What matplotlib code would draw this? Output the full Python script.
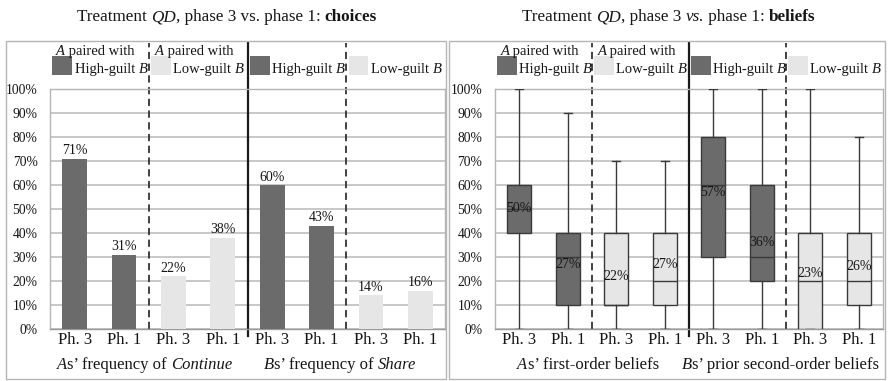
import matplotlib
matplotlib.use('Agg')
import matplotlib.pyplot as plt
from matplotlib.patches import Rectangle

W, H = 889, 381
plt.rcParams['font.family'] = ['Liberation Serif', 'DejaVu Serif']

# ---------------- data ----------------
categories = ['Ph. 3', 'Ph. 1', 'Ph. 3', 'Ph. 1', 'Ph. 3', 'Ph. 1', 'Ph. 3', 'Ph. 1']
guilt_group = ['High', 'High', 'Low', 'Low', 'High', 'High', 'Low', 'Low']
choice_values = [71, 31, 22, 38, 60, 43, 14, 16]
belief_whislo = [0, 0, 0, 0, 0, 0, 0, 0]
belief_q1 = [40, 10, 10, 10, 30, 20, 0, 10]
belief_med = [50, 30, 10, 20, 60, 30, 20, 20]
belief_q3 = [60, 40, 40, 40, 80, 60, 40, 40]
belief_whishi = [100, 90, 70, 70, 100, 100, 100, 80]
belief_mean = [50, 27, 22, 27, 57, 36, 23, 26]
yticks = list(range(0, 101, 10))
ytick_labels = [f'{v}%' for v in yticks]
legend_labels = ['High-guilt ', 'Low-guilt ', 'High-guilt ', 'Low-guilt ']
left_title = [('Treatment ', 'normal', 'normal'), ('QD', 'italic', 'normal'),
              (', phase 3 vs. phase 1: ', 'normal', 'normal'), ('choices', 'normal', 'bold')]
right_title = [('Treatment ', 'normal', 'normal'), ('QD', 'italic', 'normal'),
               (', phase 3 ', 'normal', 'normal'), ('vs.', 'italic', 'normal'),
               (' phase 1: ', 'normal', 'normal'), ('beliefs', 'normal', 'bold')]
left_xlabels = [[('A', 'italic', 'normal'), ('s\u2019 frequency of ', 'normal', 'normal'), ('Continue', 'italic', 'normal')],
                [('B', 'italic', 'normal'), ('s\u2019 frequency of ', 'normal', 'normal'), ('Share', 'italic', 'normal')]]
right_xlabels = [[('A', 'italic', 'normal'), ('s\u2019 first-order beliefs', 'normal', 'normal')],
                 [('B', 'italic', 'normal'), ('s\u2019 prior second-order beliefs', 'normal', 'normal')]]

DARK = '#6b6b6b'
LIGHT = '#e6e6e6'
TXT = '#161616'
colors = [DARK if g == 'High' else LIGHT for g in guilt_group]

fig = plt.figure(figsize=(W / 100, H / 100), dpi=100)
renderer = fig.canvas.get_renderer()


def text_width(s, size, style, weight):
    t = fig.text(0, 0, s + '|', fontsize=size, style=style, weight=weight)
    t2 = fig.text(0, 0, '|', fontsize=size, style=style, weight=weight)
    w = t.get_window_extent(renderer).width - t2.get_window_extent(renderer).width
    t.remove()
    t2.remove()
    return w


def rich(x, y, pieces, size, ha='center'):
    widths = [text_width(s, size, st, wt) for s, st, wt in pieces]
    x0 = x - sum(widths) / 2 if ha == 'center' else x
    for (s, st, wt), w in zip(pieces, widths):
        fig.text(x0 / W, 1 - y / H, s, fontsize=size, style=st, weight=wt,
                 va='baseline', ha='left', color=TXT)
        x0 += w


def px_axes(l, t, r, b):
    return fig.add_axes([l / W, 1 - b / H, (r - l) / W, (b - t) / H])


# panel borders
for x0, x1 in [(6, 446), (449, 885)]:
    fig.patches.append(Rectangle((x0 / W, 1 - 379 / H), (x1 - x0) / W, (379 - 41) / H,
                                 transform=fig.transFigure, fill=False,
                                 ec='#b5b5b5', lw=1.0))

AX = [(50, 445), (495, 883)]
axL = px_axes(50, 89, 445, 329)
axR = px_axes(495, 89, 883, 329)

for ax in (axL, axR):
    ax.set_xlim(-0.5, 7.5)
    ax.set_ylim(0, 100)
    ax.set_yticks(yticks)
    ax.set_yticklabels(ytick_labels, fontsize=9.8, color=TXT)
    ax.set_xticks(range(len(categories)))
    ax.set_xticklabels(categories, fontsize=12, color=TXT)
    ax.tick_params(axis='y', length=0, pad=9)
    ax.tick_params(axis='x', length=0, pad=2)
    ax.grid(axis='y', color='#c4c4c4', lw=1.3)
    ax.set_axisbelow(True)
    for sp in ax.spines.values():
        sp.set_color('#b5b5b5')
        sp.set_linewidth(1.0)
    ax.spines['bottom'].set_color('#9a9a9a')
    tr = ax.get_xaxis_transform()
    for xd in (1.5, 5.5):
        ax.plot([xd, xd], [0, 1.19], transform=tr, clip_on=False, color='#333333',
                lw=1.3, ls=(0, (4, 2.5)))
    ax.plot([3.5, 3.5], [-0.03, 1.19], transform=tr, clip_on=False, color='#1a1a1a', lw=1.6)

# bars
xs = list(range(len(categories)))
axL.bar(xs, choice_values, width=0.5, color=colors, zorder=3)
for x, v in zip(xs, choice_values):
    axL.annotate(f'{v}%', (x, v), xytext=(0, 1), textcoords='offset points',
                 ha='center', va='bottom', fontsize=10, color=TXT)

# boxes
stats = []
for i in range(len(categories)):
    stats.append(dict(whislo=belief_whislo[i], q1=belief_q1[i], med=belief_med[i],
                      q3=belief_q3[i], whishi=belief_whishi[i], fliers=[]))
bp = axR.bxp(stats, positions=xs, widths=0.5, patch_artist=True, showfliers=False,
             manage_ticks=False,
             boxprops=dict(ec='#3a3a3a', lw=1.0),
             whiskerprops=dict(color='#3a3a3a', lw=1.0),
             capprops=dict(color='#3a3a3a', lw=1.0),
             medianprops=dict(color='#3a3a3a', lw=1.0),
             capwidths=0.17)
for patch, c in zip(bp['boxes'], colors):
    patch.set_facecolor(c)
    patch.set_zorder(3)
for artist in bp['whiskers'] + bp['caps'] + bp['medians']:
    artist.set_zorder(3)
for x, m in zip(xs, belief_mean):
    axR.text(x, m, f'{m}%', ha='center', va='center', fontsize=10, color=TXT, zorder=4)

# legends and labels
sections = [-0.5, 1.5, 3.5, 5.5]
for (l, r) in AX:
    cw = (r - l) / 8.0
    def dx(x):
        return l + (x + 0.5) * cw
    for k, s in enumerate(sections):
        c = DARK if k % 2 == 0 else LIGHT
        sq_l = dx(s + 0.05)
        fig.patches.append(Rectangle((sq_l / W, 1 - 75 / H), 0.4 * cw / W, 19 / H,
                                     transform=fig.transFigure, fc=c, ec='none'))
        rich(dx(s + 0.5), 73, [(legend_labels[k], 'normal', 'normal'), ('B', 'italic', 'normal')],
             10.5, ha='left')
    for s in sections[:2]:
        rich(dx(s + 1.0) - 4, 55, [('A', 'italic', 'normal'), (' paired with', 'normal', 'normal')],
             10.5)

rich(227, 21, left_title, 12.3)
rich(669, 21, right_title, 12.3)

for (l, r), labs in zip(AX, [left_xlabels, right_xlabels]):
    cw = (r - l) / 8.0
    rich(l + 2 * cw - 4, 369, labs[0], 12)
    rich(l + 6 * cw - 6, 369, labs[1], 12)

fig.savefig('out.png', dpi=100)
